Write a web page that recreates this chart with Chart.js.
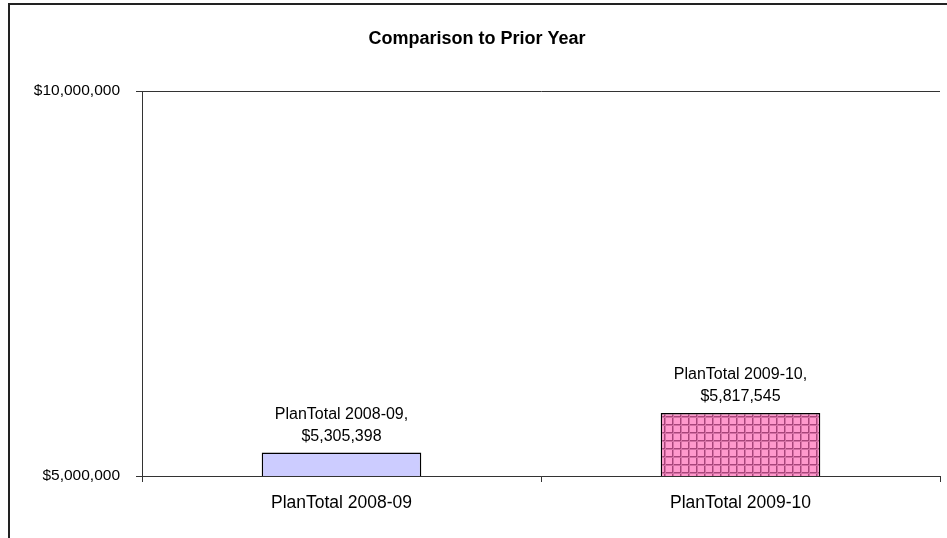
<!DOCTYPE html>
<html>
<head>
<meta charset="utf-8">
<script src="https://cdn.jsdelivr.net/npm/chart.js@4"></script>
<style>
  html, body { margin: 0; padding: 0; background: #fff; }
  #wrap { width: 947px; height: 538px; position: relative; }
</style>
</head>
<body>
<div id="wrap"><canvas id="c" width="947" height="538"></canvas></div>
<script>
const categories = ['PlanTotal 2008-09', 'PlanTotal 2009-10'];
const values = [5305398, 5817545];
const dataLabels = [['PlanTotal 2008-09,', '$5,305,398'], ['PlanTotal 2009-10,', '$5,817,545']];
const yTicks = [5000000, 10000000];
const titleText = 'Comparison to Prior Year';
const FONT = '"Liberation Sans", Arial, sans-serif';

function makePattern() {
  const p = document.createElement('canvas');
  p.width = 8; p.height = 8;
  const g = p.getContext('2d');
  g.fillStyle = '#FF99CC';
  g.fillRect(0, 0, 8, 8);
  g.fillStyle = '#A8457A';
  g.fillRect(0, 0, 8, 1);
  g.fillRect(0, 0, 1, 8);
  g.fillStyle = '#D470A4';
  g.fillRect(0, 1, 8, 1);
  g.fillRect(1, 0, 1, 8);
  return document.getElementById('c').getContext('2d').createPattern(p, 'repeat');
}

const fmt = v => '$' + v.toLocaleString('en-US');

const framePlugin = {
  id: 'frame',
  beforeDraw(chart) {
    const ctx = chart.ctx;
    ctx.save();
    ctx.fillStyle = '#fff';
    ctx.fillRect(0, 0, chart.width, chart.height);
    ctx.strokeStyle = '#222';
    ctx.lineWidth = 2;
    ctx.strokeRect(9, 4, 2000, 2000);
    ctx.font = 'bold 18px ' + FONT;
    ctx.fillStyle = '#000';
    ctx.textAlign = 'center';
    ctx.textBaseline = 'middle';
    ctx.fillText(titleText, 477, 39);
    ctx.restore();
  }
};

const labelPlugin = {
  id: 'barLabels',
  afterDatasetsDraw(chart) {
    const ctx = chart.ctx;
    const meta = chart.getDatasetMeta(0);
    ctx.save();
    ctx.font = '16px ' + FONT;
    ctx.fillStyle = '#000';
    ctx.textAlign = 'center';
    ctx.textBaseline = 'middle';
    meta.data.forEach((bar, i) => {
      const lines = dataLabels[i];
      const n = lines.length;
      lines.forEach((t, j) => {
        ctx.fillText(t, bar.x, bar.y - 16 - (n - 1 - j) * 22);
      });
    });
    ctx.restore();
  }
};

new Chart(document.getElementById('c'), {
  type: 'bar',
  data: {
    labels: categories,
    datasets: [{
      data: values,
      backgroundColor: ['#CCCCFF', makePattern()],
      borderColor: '#000',
      borderWidth: 1.5,
      borderSkipped: 'bottom',
      categoryPercentage: 1,
      barPercentage: 0.4
    }]
  },
  options: {
    responsive: false,
    animation: false,
    devicePixelRatio: 1,
    layout: { padding: { left: 0, right: 7, top: 91, bottom: 0 } },
    plugins: {
      legend: { display: false },
      tooltip: { enabled: false },
      title: { display: false }
    },
    scales: {
      x: {
        offset: true,
        grid: { offset: true, drawOnChartArea: false, drawTicks: true, tickLength: 6, color: '#333', lineWidth: 1 },
        border: { display: true, color: '#333', width: 1 },
        ticks: { color: '#000', padding: 11, font: { family: FONT, size: 17.5 } },
        afterFit(s) { s.height = 62; }
      },
      y: {
        min: yTicks[0],
        max: yTicks[yTicks.length - 1],
        afterBuildTicks(s) { s.ticks = yTicks.map(v => ({ value: v })); },
        grid: { drawTicks: true, tickLength: 6, color: '#333', lineWidth: 1 },
        border: { display: true, color: '#333', width: 1 },
        ticks: {
          color: '#000', padding: 16,
          font: { family: FONT, size: 15.5 },
          callback: v => fmt(v)
        },
        afterFit(s) { s.width = 142; }
      }
    }
  },
  plugins: [framePlugin, labelPlugin]
});
</script>
</body>
</html>
